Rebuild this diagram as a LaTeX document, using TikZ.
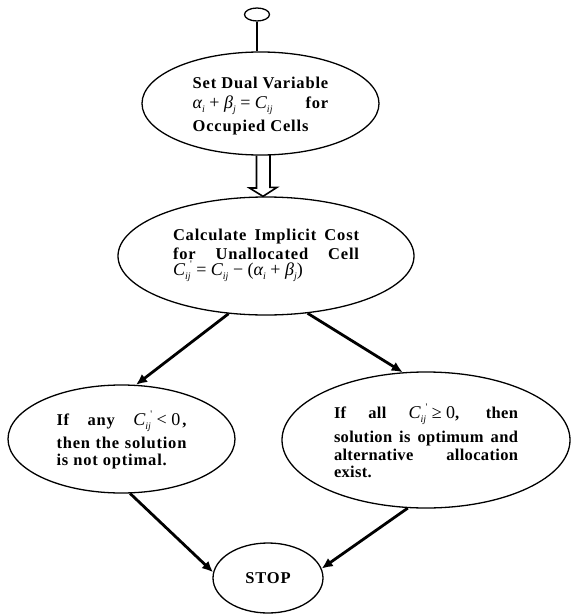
\documentclass[tikz,border=0pt]{standalone}
\usepackage{fontspec}
\setmainfont{Liberation Serif}
\newfontfamily\trackfont[LetterSpace=5]{Liberation Serif}
\newfontfamily\lighttrack[LetterSpace=2]{Liberation Serif}
\newfontfamily\formfont{Liberation Serif}
\usetikzlibrary{shapes.geometric,arrows.meta}
\newcommand{\fm}{\formfont\mdseries\fontsize{18}{18}\selectfont}
\newcommand{\mi}[1]{{\fm\itshape #1}}
\newcommand{\mr}[1]{{\fm #1}}
\newcommand{\gp}{\hspace{4.5pt}}
\newcommand{\sbs}[1]{\raisebox{-0.5ex}{\formfont\mdseries\itshape\fontsize{10}{10}\selectfont #1}}
\newcommand{\Cprime}{\mi{C}\raisebox{-0.5ex}{\formfont\mdseries\itshape\fontsize{10}{12}\selectfont
  \begin{tabular}[b]{@{}l@{}}\upshape\,\,\,'\\ij\end{tabular}}}
\newcommand{\topstrut}{\rule{0pt}{17pt}}
\tikzset{
  shapebox/.style={ellipse, draw, line width=1.3pt, inner sep=0pt,
    font=\trackfont\bfseries\fontsize{16.5}{18}\selectfont},
  flowarrow/.style={line width=2.8pt, -{Latex[length=11pt,width=10pt]}},
  plainline/.style={line width=1.3pt},
  dblarrow/.style={line width=1.6pt, line join=miter}
}
\begin{document}
\begin{tikzpicture}[x=1pt,y=-1pt]
\useasboundingbox (0,0) rectangle (572,615);
% start terminal
\node[shapebox, minimum width=25pt, minimum height=13pt] (start) at (257,14.5) {};
% ellipse 1
\node[shapebox, minimum width=237pt, minimum height=103pt, align=left] (e1) at (260.5,103.5)
  {\topstrut Set Dual Variable\\[2pt]
   \mi{α}\sbs{i}\mr{\gp+\gp}\mi{β}\sbs{j}\mr{\gp=\gp}\mi{C}\sbs{ij}\hspace{2em}for\\[5pt]
   Occupied Cells};
% ellipse 2
\node[shapebox, minimum width=296pt, minimum height=118pt, align=left] (e2) at (266,256)
  {\makebox[186pt][s]{Calculate Implicit Cost}\\[1pt]
   \makebox[186pt][s]{for Unallocated Cell}\\[-2pt]
   \Cprime\mr{\gp=\gp}\mi{C}\sbs{ij}\mr{\gp−\gp(}\mi{α}\sbs{i}\mr{\gp+\gp}\mi{β}\sbs{j}\mr{)}};
% ellipse 3
\node[shapebox, minimum width=227pt, minimum height=108pt, align=left] (e3) at (121.5,439)
  {\topstrut\makebox[130pt][s]{If any \Cprime\mr{\gp<\gp0}\hspace{2pt},}\\[3pt]
   \makebox[130pt][s]{then the solution}\\[-1pt]
   is not optimal.};
% ellipse 4
\node[shapebox, minimum width=288pt, minimum height=136pt, align=left, font=\lighttrack\bfseries\fontsize{16.5}{18}\selectfont] (e4) at (426,440)
  {\makebox[184pt][s]{If all \Cprime\mr{\gp≥\gp0}, then}\\[4pt]
   \makebox[184pt][s]{solution is optimum and}\\[0pt]
   \makebox[184pt][s]{alternative allocation}\\[-1pt]
   exist.};
% stop
\node[shapebox, minimum width=110pt, minimum height=70pt] (stop) at (268,578) {STOP};
% connectors
\draw[plainline] (start.south) -- (start.south |- e1.north);
\draw[dblarrow] ([xshift=-3pt]e2.north |- e1.south) ++(-6.5,0) coordinate (dA)
  (dA) -- (dA |- 0,188) -- ++(-7,0) -- ([xshift=-3pt]e2.north) -- ++(14,-9) -- ++(-7,0) -- ++(0,-33);
\draw[flowarrow] (e2.237) -- (e3.75);
\draw[flowarrow] (e2.306) -- (e4.109);
\draw[flowarrow] (e3.279) -- (stop.174);
\draw[flowarrow] (e4.255) -- (stop.10);
\end{tikzpicture}
\end{document}
